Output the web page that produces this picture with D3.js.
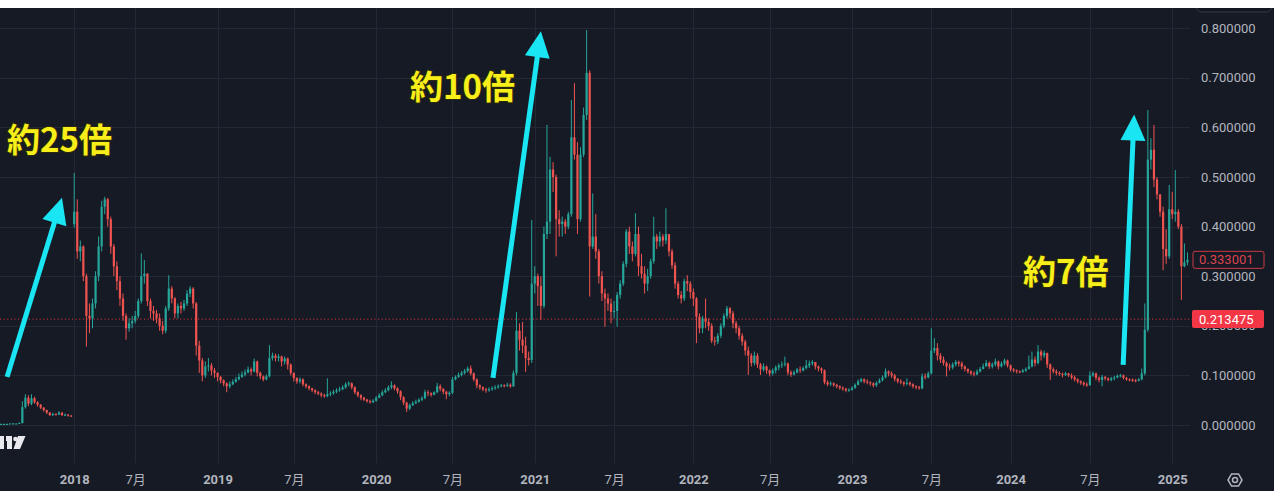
<!DOCTYPE html>
<html>
<head>
<meta charset="utf-8">
<script src="https://cdn.jsdelivr.net/npm/d3@7/dist/d3.min.js"></script>
<style>
body{margin:0;background:#fff;}
</style>
</head>
<body>
<div class="chart"></div>
<script>
// weekly candles, price in 1/1000 (open = previous close unless listed in gapOpens)
var closes=[2,2,2,3,3,3,4,36,55,43,54,46,41,35,30,25,20,22,21,25,20,21,19,18,
430,350,360,300,220,215,245,300,360,440,455,415,360,320,290,255,220,195,205,210,220,250,300,305,250,230,225,215,200,190,235,275,255,225,240,235,245,265,275,245,160,130,100,118,120,110,105,
97,90,84,78,82,87,92,97,102,106,112,108,128,105,98,92,98,135,140,135,138,128,134,122,105,95,88,92,82,78,74,70,66,63,60,58,62,64,67,70,72,76,82,84,76,66,60,55,51,48,46,49,
55,60,66,70,76,80,74,68,56,45,33,40,44,47,51,54,66,64,61,66,78,73,67,62,65,92,97,101,105,109,114,104,92,80,76,72,70,72,74,76,78,80,79,81,78,105,190,172,160,135,131,285,
300,280,240,385,410,515,500,415,405,410,400,425,580,545,415,545,625,710,360,380,350,300,265,255,245,228,230,262,285,325,390,360,345,385,320,305,285,300,330,380,370,380,372,385,350,322,285,262,255,290,285,268,
255,218,195,215,208,200,170,168,180,200,220,235,225,205,195,180,168,150,140,125,140,122,112,118,110,104,110,116,120,122,124,106,102,106,112,110,115,120,124,127,118,114,110,86,82,84,81,78,75,73,70,71,
75,81,88,92,88,86,84,80,85,90,96,108,104,100,93,88,86,83,85,82,78,76,74,98,96,104,150,155,140,132,125,118,116,122,127,124,118,113,108,104,102,108,113,118,125,118,122,128,118,124,130,120,
112,110,108,107,110,113,118,132,125,148,140,145,122,112,108,105,103,101,104,100,96,92,88,85,82,80,100,104,95,91,97,94,91,94,96,99,100,95,92,91,90,89,92,104,192,535,555,495,465,430,355,340,435,425,430,400,320,328,333];
var highs=[3,3,3,3,4,4,5,48,62,60,62,57,48,42,36,31,26,25,24,28,26,23,22,20,
508,455,372,362,305,245,255,310,380,452,460,458,420,365,330,300,265,225,215,220,230,255,346,333,306,255,240,232,225,210,240,302,280,258,245,248,252,272,280,278,248,170,135,128,135,125,115,
106,99,92,86,88,92,97,104,108,112,118,116,134,130,108,100,102,161,146,144,143,140,138,136,124,106,96,96,94,84,80,75,72,69,66,63,94,68,71,74,77,80,86,88,86,78,68,62,57,53,51,52,
58,64,70,74,80,88,82,76,70,58,47,43,48,51,54,58,71,70,66,68,85,82,74,69,68,97,100,106,109,113,118,120,106,94,82,78,75,76,78,80,82,83,82,85,84,110,228,205,208,178,148,413,
320,305,300,400,605,541,530,505,433,420,415,430,655,689,570,560,640,796,715,467,425,355,310,275,265,255,250,268,292,330,395,400,370,427,400,345,320,315,335,420,385,390,385,437,385,355,328,290,270,295,302,290,
275,258,225,220,255,215,205,178,185,205,225,240,238,230,210,200,185,172,158,145,148,145,125,124,120,112,114,120,124,128,138,126,110,110,115,118,118,131,130,131,126,120,116,112,90,88,86,83,80,78,75,74,
78,84,92,95,94,92,88,86,88,94,100,114,110,108,103,95,92,88,94,88,84,80,79,104,104,108,195,175,165,145,138,128,124,126,131,130,128,120,114,110,108,112,117,124,131,128,126,134,130,128,134,132,
122,115,112,110,113,116,140,148,138,161,152,150,146,124,116,112,108,106,107,105,104,100,94,90,88,86,108,108,106,98,101,99,96,97,99,102,103,102,97,94,94,93,95,114,245,635,578,605,500,465,440,395,484,470,514,435,405,366,348];
var lows=[1,2,2,2,2,3,3,3,33,38,40,43,37,32,27,22,18,18,19,20,18,18,17,16,
398,335,330,290,158,185,195,235,290,350,425,400,345,300,272,240,210,172,188,195,205,215,245,285,240,215,210,205,190,183,185,230,245,215,215,225,230,240,258,235,140,105,88,95,108,100,95,
88,84,78,66,74,80,85,90,95,98,104,100,106,98,92,88,90,96,130,128,128,118,122,112,100,88,83,84,78,74,70,66,62,60,56,55,56,58,61,64,67,70,73,78,72,62,56,50,48,45,43,44,
47,54,58,64,68,72,70,63,50,40,26,30,38,42,45,48,52,58,57,60,64,68,62,52,58,62,90,95,98,102,106,100,88,74,71,68,65,67,69,71,73,76,76,77,75,77,100,150,145,107,120,125,
265,240,212,235,375,385,470,340,380,380,385,395,420,535,385,410,540,615,259,355,335,285,250,198,230,205,215,198,255,280,318,345,330,340,300,295,265,270,295,325,355,360,360,365,340,315,275,255,245,250,270,255,
240,165,185,185,195,190,165,160,163,175,195,215,215,195,185,172,160,140,101,118,120,115,101,108,103,98,100,104,110,115,118,100,97,100,104,105,108,112,115,120,112,108,104,82,78,79,77,74,71,69,66,67,
69,73,80,86,84,82,79,76,77,84,88,94,98,95,88,84,82,78,80,78,74,72,71,72,92,94,102,145,130,125,120,98,110,112,118,118,112,108,104,100,98,100,106,112,118,113,114,118,112,116,120,116,
108,106,104,104,105,107,112,116,118,122,130,135,115,91,104,100,99,96,99,97,92,88,84,81,78,77,80,97,90,86,78,90,88,88,90,94,96,92,89,88,87,86,88,90,100,188,515,480,455,420,312,325,335,415,410,395,252,318,322];
var gapOpens={0:2,24:405};

// axis ticks (bar index where each period starts)
var tickBars=[24,44,71,96,123,148,175,201,227,252,279,305,331,357,384];
var tickLabels=["2018","7月","2019","7月","2020","7月","2021","7月","2022","7月","2023","7月","2024","7月","2025"];
var yTicks=[0,0.1,0.2,0.3,0.4,0.5,0.6,0.7,0.8];
var lastPrice=0.333001;
var markPrice=0.213475;

// annotations: text anchor and arrow (bar index, price)
var noteTexts=["約25倍","約10倍","約7倍"];
var noteAt=[[2,0.551],[134.1,0.658],[335.1,0.285]];
var arrowFrom=[[2,0.097],[161.3,0.095],[367.9,0.121]];
var arrowTo=[[20,0.458],[177,0.794],[371.5,0.626]];

var W=1274,H=500;
var plotRight=1190,plotTop=8,plotBottom=463,frameBottom=491;

var candles=closes.map(function(c,i){
    var o=(i in gapOpens)?gapOpens[i]:closes[i-1];
    return {i:i,o:o/1000,h:highs[i]/1000,l:lows[i]/1000,c:c/1000};
});

var svg=d3.select(".chart").append("svg")
    .attr("width",W).attr("height",H)
    .style("display","block");

svg.append("rect").attr("width",W).attr("height",H).attr("fill","#fff");
svg.append("rect").attr("x",0).attr("y",plotTop).attr("width",W).attr("height",frameBottom-plotTop).attr("fill","#161a25");

var x=d3.scaleLinear().domain([0,closes.length-1]).range([1,1187.5]);
var y=d3.scaleLinear().domain([0,0.8]).range([425,28.2]);

//grid
var grid=svg.append("g");
grid.selectAll(".hg").data(yTicks).enter().append("line")
    .attr("x1",0).attr("x2",plotRight)
    .attr("y1",d=>Math.round(y(d))+0.5).attr("y2",d=>Math.round(y(d))+0.5)
    .attr("stroke","#242835");
grid.selectAll(".vg").data(tickBars).enter().append("line")
    .attr("x1",d=>Math.round(x(d))+0.5).attr("x2",d=>Math.round(x(d))+0.5)
    .attr("y1",plotTop).attr("y2",plotBottom)
    .attr("stroke","#242835");

//price line
svg.append("line")
    .attr("x1",0).attr("x2",plotRight+2)
    .attr("y1",y(markPrice)).attr("y2",y(markPrice))
    .attr("stroke","#f23645").attr("stroke-width",1)
    .attr("stroke-dasharray","1.2,2.4").attr("opacity",0.85);

//candles
var up="#26a69a",down="#ef5350";
var cg=svg.append("g").selectAll("g").data(candles).enter().append("g");
cg.append("line")
    .attr("x1",d=>x(d.i)).attr("x2",d=>x(d.i))
    .attr("y1",d=>y(d.h)).attr("y2",d=>y(d.l))
    .attr("stroke",d=>d.c>=d.o?up:down).attr("stroke-width",1);
cg.append("rect")
    .attr("x",d=>x(d.i)-1.1).attr("width",2.2)
    .attr("y",d=>y(Math.max(d.o,d.c)))
    .attr("height",d=>Math.max(1,Math.abs(y(d.o)-y(d.c))))
    .attr("fill",d=>d.c>=d.o?up:down);

//y axis
var yAxis=d3.axisRight(y).tickValues(yTicks).tickFormat(d3.format(".6f")).tickSize(0).tickPadding(0);
var ya=svg.append("g").attr("transform","translate(1201,0)").call(yAxis);
ya.select(".domain").remove();
ya.selectAll("text").attr("fill","#b2b5be").style("font-family","Roboto, 'Noto Sans', sans-serif").style("font-size","13px");

//x axis
var xAxis=d3.axisBottom(x).tickValues(tickBars).tickFormat((d,i)=>tickLabels[i]).tickSize(0).tickPadding(12);
var xa=svg.append("g").attr("transform",`translate(0,${plotBottom})`).call(xAxis);
xa.select(".domain").remove();
xa.selectAll("text")
    .attr("fill","#b2b5be")
    .style("font-family","Roboto, 'Noto Sans CJK JP', sans-serif")
    .style("font-size","13px")
    .style("font-weight",(d,i)=>tickLabels[i].indexOf("月")<0?"700":"400");

//price labels
var lp=svg.append("g").attr("transform",`translate(1193,${y(lastPrice)})`);
lp.append("rect").attr("x",0).attr("y",-8.5).attr("width",71).attr("height",17).attr("rx",2)
    .attr("fill","#161a25").attr("stroke","#c83a44");
lp.append("text").attr("x",6).attr("dy","0.35em").text(lastPrice.toFixed(6))
    .attr("fill","#d9434d").style("font-family","Roboto, sans-serif").style("font-size","13px");
var mp=svg.append("g").attr("transform",`translate(1192,${y(markPrice)})`);
mp.append("rect").attr("x",0).attr("y",-9).attr("width",72).attr("height",18).attr("rx",2).attr("fill","#f23645");
mp.append("text").attr("x",7).attr("dy","0.35em").text(markPrice.toFixed(6))
    .attr("fill","#fff").style("font-family","Roboto, sans-serif").style("font-size","13px");

//settings icon
var ic=svg.append("g").attr("transform","translate(1235,480)");
ic.append("path").attr("d",d3.range(6).map(function(k){var a=Math.PI/3*k;return (k?"L":"M")+(7*Math.cos(a)).toFixed(2)+","+(7*Math.sin(a)).toFixed(2);}).join("")+"Z")
    .attr("fill","none").attr("stroke","#b2b5be").attr("stroke-width",1.5);
ic.append("circle").attr("r",2.5).attr("fill","none").attr("stroke","#b2b5be").attr("stroke-width",1.5);

//tv logo remnant
var logo=svg.append("g").attr("fill","#e8e9ec");
logo.append("rect").attr("x",0).attr("y",436).attr("width",4).attr("height",13);
logo.append("path").attr("d","M6,436 H12 V449 H7 V441 H6 Z");
logo.append("circle").attr("cx",15.5).attr("cy",439).attr("r",2.3);
logo.append("path").attr("d","M18,436 H25.5 L20,449 H13.5 Z");

//arrows
var cyan="#19e6f2";
arrowFrom.forEach(function(f,k){
    var p0=[x(f[0]),y(f[1])],p1=[x(arrowTo[k][0]),y(arrowTo[k][1])];
    var dx=p1[0]-p0[0],dy=p1[1]-p0[1],len=Math.sqrt(dx*dx+dy*dy);
    var ux=dx/len,uy=dy/len,nx=-uy,ny=ux;
    var hl=26,hw=12.5;
    var bx=p1[0]-ux*hl,by=p1[1]-uy*hl;
    svg.append("line").attr("x1",p0[0]).attr("y1",p0[1]).attr("x2",bx+ux*2).attr("y2",by+uy*2)
        .attr("stroke",cyan).attr("stroke-width",5).attr("stroke-linecap","butt");
    svg.append("path")
        .attr("d",`M${p1[0]},${p1[1]}L${bx+nx*hw},${by+ny*hw}L${bx-nx*hw},${by-ny*hw}Z`)
        .attr("fill",cyan);
});

//notes
svg.selectAll(".note").data(noteTexts).enter().append("text")
    .attr("x",(d,i)=>x(noteAt[i][0]))
    .attr("y",(d,i)=>y(noteAt[i][1]))
    .text(d=>d)
    .attr("fill","#f8ef1a")
    .attr("stroke","#2b2a0c").attr("stroke-width",2).attr("paint-order","stroke")
    .style("font-family","'Noto Sans CJK JP', sans-serif")
    .style("font-weight","700")
    .style("font-size","33px");

//top button edge and white border strips
svg.append("rect").attr("x",1196).attr("y",-14).attr("width",76).attr("height",26).attr("rx",6)
    .attr("fill","#131722").attr("stroke","#363a45");
svg.append("rect").attr("x",0).attr("y",0).attr("width",W).attr("height",plotTop).attr("fill","#fff");
svg.append("rect").attr("x",0).attr("y",frameBottom).attr("width",W).attr("height",H-frameBottom).attr("fill","#fff");
</script>
</body>
</html>
